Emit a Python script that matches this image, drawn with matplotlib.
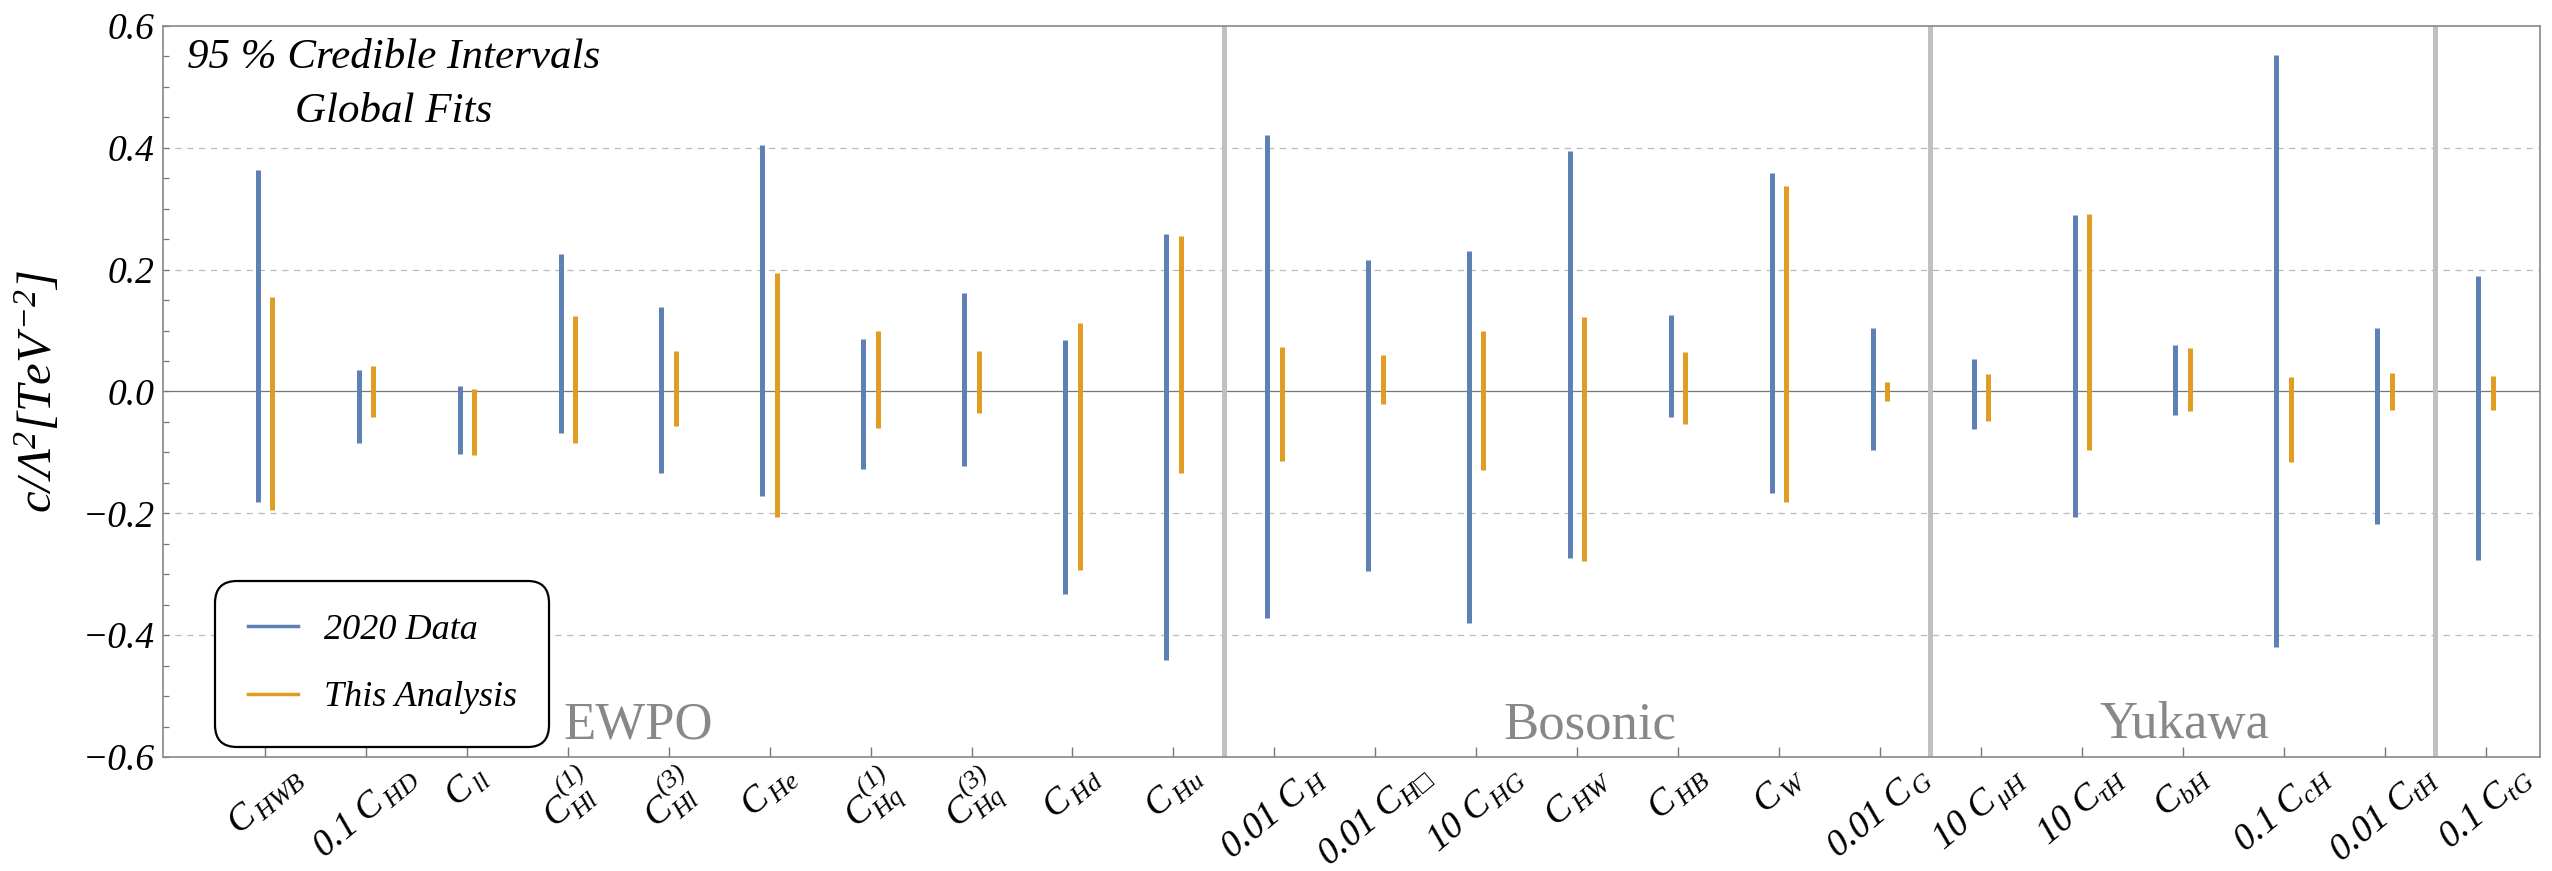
import numpy as np
import matplotlib
matplotlib.use('Agg')
import matplotlib.pyplot as plt
from matplotlib.lines import Line2D

plt.rcParams['font.family'] = ['Liberation Serif', 'DejaVu Serif']
plt.rcParams['font.style'] = 'italic'
plt.rcParams['mathtext.fontset'] = 'custom'
plt.rcParams['mathtext.rm'] = 'Liberation Serif:italic'
plt.rcParams['mathtext.it'] = 'Liberation Serif:italic'
plt.rcParams['mathtext.bf'] = 'Liberation Serif:bold'
plt.rcParams['mathtext.fallback'] = 'stix'

# Wilson coefficients (rescaled as in the labels)
labels = [r'$C_{\,HWB}$', r'$0.1\ C_{\,HD}$', r'$C_{\,ll}$', r'$C_{Hl}^{(1)}$', r'$C_{Hl}^{(3)}$',
          r'$C_{\,He}$', r'$C_{Hq}^{(1)}$', r'$C_{Hq}^{(3)}$', r'$C_{\,Hd}$', r'$C_{\,Hu}$',
          r'$0.01\ C_{\,H}$', r'$0.01\ C_{H□}$', r'$10\ C_{\,HG}$', r'$C_{\,HW}$', r'$C_{\,HB}$',
          r'$C_{\,W}$', r'$0.01\ C_{\,G}$',
          r'$10\ C_{\,\mu H}$', r'$10\ C_{\tau H}$', r'$C_{bH}$', r'$0.1\ C_{cH}$', r'$0.01\ C_{tH}$',
          r'$0.1\ C_{tG}$']

# 95% intervals, 2020 global fit
old_lo = [-0.182, -0.085, -0.102, -0.068, -0.134, -0.172, -0.127, -0.123, -0.333, -0.440,
          -0.372, -0.295, -0.380, -0.274, -0.042, -0.166, -0.096,
          -0.061, -0.206, -0.038, -0.419, -0.218, -0.276]
old_hi = [0.364, 0.035, 0.009, 0.226, 0.139, 0.405, 0.086, 0.161, 0.084, 0.258,
          0.421, 0.215, 0.231, 0.395, 0.126, 0.359, 0.104,
          0.053, 0.289, 0.076, 0.552, 0.104, 0.190]

# 95% intervals, this analysis
new_lo = [-0.194, -0.042, -0.105, -0.085, -0.057, -0.206, -0.060, -0.036, -0.293, -0.134,
          -0.114, -0.020, -0.129, -0.278, -0.054, -0.181, -0.016,
          -0.048, -0.096, -0.032, -0.115, -0.030, -0.031]
new_hi = [0.155, 0.042, 0.004, 0.124, 0.066, 0.194, 0.100, 0.066, 0.112, 0.255,
          0.073, 0.060, 0.099, 0.123, 0.064, 0.337, 0.016,
          0.029, 0.291, 0.072, 0.024, 0.030, 0.025]

groups = ['EWPO', 'Bosonic', 'Yukawa']
group_x = [4.7, 14.13, 20.02]
group_breaks = [10.5, 17.5, 22.5]

blue = '#5E81B5'
orange = '#E19C24'

x = np.arange(1, len(labels) + 1)

fig = plt.figure(figsize=(25.52, 8.71), dpi=100)
ax = fig.add_axes([0.0639, 0.1309, 0.9314, 0.8393])

ax.vlines(x - 0.072, old_lo, old_hi, color=blue, lw=3.6, zorder=3)
ax.vlines(x + 0.072, new_lo, new_hi, color=orange, lw=3.6, zorder=3)

ax.axhline(0, color='#777777', lw=0.9, zorder=1)
for yg in [-0.4, -0.2, 0.2, 0.4]:
    ax.axhline(yg, color='#bbbbbb', lw=0.9, ls=(0, (5, 4.5)), zorder=1)
for xb in group_breaks:
    ax.axvline(xb, color='#c0c0c0', lw=3.6, zorder=2)

for name, gx in zip(groups, group_x):
    ax.text(gx, -0.569, name, ha='center', va='baseline', fontsize=38,
            style='normal', color='#888888')

ax.text(2.27, 0.531, '95 % Credible Intervals', ha='center', va='baseline', fontsize=31)
ax.text(2.27, 0.442, 'Global Fits', ha='center', va='baseline', fontsize=31)

ax.set_xlim(-0.01, 23.54)
ax.set_ylim(-0.6, 0.6)
ax.set_xticks(x)
ax.set_xticklabels(labels, rotation=40, ha='center', fontsize=27)
yt = np.round(np.arange(-0.6, 0.61, 0.2), 1)
ax.set_yticks(yt)
ax.set_yticklabels([f'{v:.1f}'.replace('-', '\u2212') for v in yt], fontsize=27,
                   fontfamily='Liberation Serif', fontstyle='italic')
ax.set_yticks(np.arange(-0.6, 0.61, 0.05), minor=True)
ax.tick_params(axis='x', direction='in', length=7, width=1, color='#777777', pad=2,
               top=False)
ax.tick_params(axis='y', which='both', direction='in', length=4, width=0.9,
               color='#777777', pad=6, right=False)
ax.tick_params(axis='x', which='minor', bottom=False)
for s in ax.spines.values():
    s.set_color('#888888')
    s.set_linewidth(1.2)

ax.set_ylabel(r'$c/\Lambda^2[TeV^{-2}]$', fontsize=35)
ax.yaxis.set_label_coords(-0.0425, 0.5)

handles = [Line2D([], [], color=blue, lw=2.5), Line2D([], [], color=orange, lw=2.5)]
leg = ax.legend(handles, ['2020 Data', 'This Analysis'], loc='lower left',
                bbox_to_anchor=(0.022, 0.014), fontsize=26, frameon=True, fancybox=True,
                handlelength=1.4, handletextpad=0.7, borderpad=0.9, labelspacing=0.95,
                framealpha=1, borderaxespad=0)
leg.get_frame().set_edgecolor('black')
leg.get_frame().set_linewidth(1.6)
leg.get_frame().set_boxstyle('round', pad=0, rounding_size=0.6)

fig.savefig('out.png', dpi=100)
